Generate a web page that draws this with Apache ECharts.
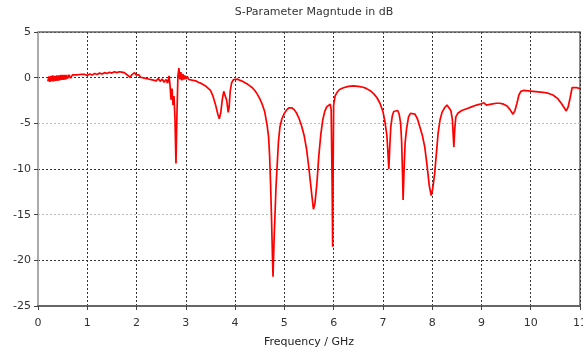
<!DOCTYPE html>
<html>
<head>
<meta charset="utf-8">
<script src="https://cdn.jsdelivr.net/npm/echarts@6/dist/echarts.min.js"></script>
<style>html,body{margin:0;padding:0;background:#fff}#c{width:583px;height:349px}</style>
</head>
<body>
<div id="c"></div>
<script>
const titleText = 'S-Parameter Magntude in dB';
const xName = 'Frequency / GHz';
const xTicks = [0,1,2,3,4,5,6,7,8,9,10,11];
const yTicks = [-25,-20,-15,-10,-5,0,5];
const freq = [
0.20,0.22,0.24,0.26,0.28,0.30,0.32,0.34,0.36,0.38,0.40,0.42,0.44,0.46,0.48,0.50,0.52,0.54,0.56,0.58,0.60,0.63,0.66,0.70,0.74,0.78,0.82,0.86,0.90,0.95,
1.00,1.05,1.10,1.15,1.20,1.25,1.30,1.35,1.40,1.45,1.50,1.55,1.60,1.65,1.70,1.75,1.80,1.84,1.87,1.90,1.93,1.96,1.99,2.02,2.05,2.08,2.12,2.16,2.20,2.24,
2.28,2.32,2.36,2.40,2.44,2.48,2.52,2.56,2.60,2.63,2.66,2.68,2.70,2.72,2.74,2.76,2.78,2.80,2.82,2.84,2.86,2.88,2.90,2.92,2.94,2.96,2.98,3.00,3.03,3.06,
3.10,3.15,3.20,3.25,3.30,3.35,3.40,3.45,3.50,3.55,3.60,3.65,3.68,3.71,3.74,3.77,3.80,3.83,3.86,3.88,3.90,3.93,3.97,4.00,4.05,4.10,4.15,4.20,4.25,4.30,
4.35,4.40,4.45,4.50,4.55,4.60,4.65,4.68,4.70,4.72,4.74,4.76,4.77,4.79,4.81,4.83,4.86,4.88,4.91,4.95,5.00,5.05,5.10,5.15,5.20,5.25,5.30,5.35,5.40,5.45,
5.50,5.55,5.59,5.62,5.66,5.70,5.74,5.78,5.82,5.86,5.90,5.93,5.95,5.97,5.98,5.99,6.00,6.03,6.07,6.12,6.20,6.30,6.40,6.50,6.60,6.67,6.75,6.82,6.88,6.94,
7.00,7.04,7.08,7.10,7.12,7.14,7.16,7.19,7.22,7.26,7.30,7.33,7.36,7.38,7.40,7.41,7.43,7.45,7.48,7.52,7.56,7.60,7.65,7.70,7.75,7.80,7.85,7.90,7.94,7.98,
8.01,8.05,8.09,8.12,8.16,8.20,8.25,8.30,8.34,8.38,8.41,8.44,8.46,8.48,8.52,8.60,8.70,8.80,8.90,9.00,9.05,9.10,9.20,9.30,9.37,9.45,9.52,9.58,9.64,9.68,
9.72,9.76,9.80,9.85,9.95,10.05,10.15,10.25,10.35,10.45,10.55,10.62,10.68,10.72,10.76,10.80,10.84,10.88,10.94,11.00
];
const s11 = [
-0.4,0.15,-0.45,0.2,-0.4,0.25,-0.4,0.2,-0.35,0.25,-0.35,0.25,-0.3,0.3,-0.25,0.3,-0.25,0.3,-0.2,0.3,-0.1,0.3,-0.05,0.3,0.1,0.3,0.15,0.35,0.2,0.35,
0.25,0.4,0.3,0.45,0.35,0.5,0.4,0.55,0.45,0.6,0.5,0.65,0.55,0.65,0.6,0.55,0.35,0.15,0.05,0.3,0.5,0.55,0.3,0.15,0.3,0.05,0.2,-0.05,0.1,-0.15,
0.05,-0.25,-0.05,-0.35,-0.1,-0.4,-0.15,-0.5,-0.2,-0.6,0.2,-0.9,-2.4,-1.2,-3.0,-2.0,-4.5,-9.4,-4.0,0.2,1.05,-0.2,0.6,-0.3,0.4,-0.2,0.25,-0.15,0.15,-0.2,
0.0,-0.3,-0.35,-0.5,-0.6,-0.75,-0.9,-1.15,-1.4,-2.0,-2.9,-4.0,-4.5,-3.8,-2.4,-1.5,-1.45,-2.5,-3.8,-3.2,-1.5,-0.55,-0.2,-0.05,-0.15,-0.3,-0.4,-0.55,-0.7,-0.9,
-1.1,-1.4,-1.8,-2.3,-2.9,-3.7,-5.2,-6.5,-8.5,-11.6,-15.5,-20.0,-21.8,-18.0,-15.0,-12.0,-9.0,-7.0,-5.4,-4.5,-3.9,-3.5,-3.3,-3.3,-3.5,-3.9,-4.5,-5.3,-6.3,-7.8,
-10.0,-12.5,-14.4,-13.8,-11.6,-8.5,-6.2,-4.6,-3.7,-3.2,-3.0,-2.9,-3.5,-12.0,-18.5,-10.0,-3.0,-2.0,-1.6,-1.3,-1.1,-0.95,-0.9,-0.95,-1.05,-1.2,-1.45,-1.8,-2.2,-2.8,
-3.7,-4.8,-6.3,-8.0,-10.0,-7.5,-5.4,-4.2,-3.7,-3.5,-3.6,-4.0,-5.0,-7.0,-11.0,-13.4,-10.0,-7.2,-5.6,-4.3,-3.9,-3.8,-4.0,-4.5,-5.4,-6.3,-7.6,-9.8,-11.8,-12.9,
-12.2,-10.5,-8.0,-6.1,-4.6,-3.8,-3.3,-3.0,-3.1,-3.6,-4.6,-7.6,-5.5,-4.3,-3.9,-3.6,-3.4,-3.2,-3.0,-2.85,-2.75,-3.0,-2.9,-2.8,-2.8,-2.9,-3.1,-3.5,-4.0,-3.6,
-2.8,-1.9,-1.5,-1.4,-1.45,-1.5,-1.55,-1.6,-1.7,-1.9,-2.3,-2.8,-3.3,-3.65,-3.2,-2.2,-1.1,-0.95,-1.1,-1.2
];
const font = 'DejaVu Sans';
const chart = echarts.init(document.getElementById('c'));
chart.setOption({
  animation: false,
  backgroundColor: '#fff',
  title: {
    text: titleText, left: 309, top: 2, textAlign: 'center',
    textStyle: {fontFamily: font, fontSize: 11, fontWeight: 'normal', color: '#333'}
  },
  grid: {left: 38, right: 3, top: 32, bottom: 43, show: true, borderColor: '#666', borderWidth: 1.5, outerBoundsMode: 'none', containLabel: false},
  xAxis: {
    type: 'value', min: xTicks[0], max: xTicks[xTicks.length-1], interval: 1,
    name: xName, nameLocation: 'middle', nameGap: 31,
    nameTextStyle: {fontFamily: font, fontSize: 11, color: '#222'},
    axisLine: {show: true, onZero: false, lineStyle: {color: '#666', width: 2}},
    axisTick: {show: true, length: 4, lineStyle: {color: '#444'}},
    axisLabel: {fontFamily: font, fontSize: 11, color: '#333', margin: 12},
    splitLine: {show: true, lineStyle: {color: '#333', type: [2,2], width: 1}}
  },
  yAxis: {
    type: 'value', min: yTicks[0], max: yTicks[yTicks.length-1], interval: 5,
    axisLine: {show: true, onZero: false, lineStyle: {color: '#aaa', width: 2}},
    axisTick: {show: true, length: 4, lineStyle: {color: '#444'}},
    axisLabel: {fontFamily: font, fontSize: 11, color: '#333', margin: 7},
    splitLine: {show: true, lineStyle: {color: ['#555','#333','#bbb','#333','#bbb','#333','#555'], type: [2,2], width: 1}}
  },
  series: [{
    type: 'line', showSymbol: false, symbol: 'none',
    data: freq.map((f,i) => [f, s11[i]]),
    lineStyle: {color: '#ff0000', width: 1.7},
    z: 5
  }]
});
</script>
</body>
</html>
